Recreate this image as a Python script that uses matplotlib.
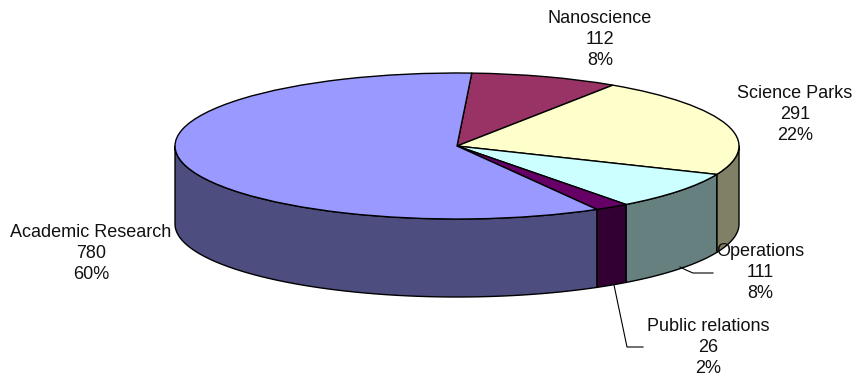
#!/usr/bin/env python
# -*- coding: utf-8 -*-

import numpy as np
import matplotlib
matplotlib.use("Agg")
import matplotlib.pyplot as plt

plt.rcParams['font.family'] = ['Liberation Sans', 'DejaVu Sans']

W, H = 855, 381

names = ['Nanoscience', 'Science Parks', 'Operations', 'Public relations', 'Academic Research']
values = [112, 291, 111, 26, 780]
percents = [8, 22, 8, 2, 60]
top_colors = ['#993366', '#FFFFCC', '#CCFFFF', '#660066', '#9999FF']
wall_colors = ['#4D1A33', '#808066', '#668080', '#330033', '#4D4D80']

# pie centre and radii in pixels, wall height too
CX, CY, RX, RY = 457, 146, 282, 73
DEPTH = 78 / RY
START = 87

#Pixel position to data position
def px(x, y):
	return (x - CX) / RX, (CY - y) / RY

#Side wall for one slice, only the part facing the viewer
def draw_wall(ax, a0, a1, color):
	lo, hi = max(a0, 180), min(a1, 360)
	if lo >= hi:
		return
	t = np.radians(np.linspace(lo, hi, 80))
	x = np.cos(t)
	y = np.sin(t)
	ax.fill(np.r_[x, x[::-1]], np.r_[y, y[::-1] - DEPTH], facecolor=color,
		edgecolor='black', linewidth=1.0, joinstyle='round', zorder=1)


fig = plt.figure(figsize=(W / 100, H / 100), dpi=100)
ax = fig.add_axes([0, 0, 1, 1])

ax.pie(values, colors=top_colors, startangle=START, counterclock=False,
	wedgeprops={'edgecolor': 'black', 'linewidth': 1.0, 'zorder': 2})
ax.set_aspect('auto')
ax.set_xlim(px(0, 0)[0], px(W, 0)[0])
ax.set_ylim(px(0, H)[1], px(0, 0)[1])

# walls, walking clockwise from the start angle
ends = START - np.cumsum(values) / np.sum(values) * 360
starts = np.r_[START, ends[:-1]]
for a_start, a_end, color in zip(starts, ends, wall_colors):
	# same slice may sit in the front half after a full turn
	draw_wall(ax, a_end, a_start, color)
	draw_wall(ax, a_end + 360, a_start + 360, color)

#Leader lines for the two labels that sit away from their slices
leaders = [[(680, 267), (686, 270), (693, 273), (713, 273)],
	[(614, 285), (627, 347), (643, 347)]]
for pts in leaders:
	xy = np.array([px(*p) for p in pts])
	ax.plot(xy[:, 0], xy[:, 1], color='black', linewidth=0.8, zorder=3)

label_pos = [(600, 39.5), (795, 114.5), (760, 272.5), (708, 347.5), (91, 253.5)]
for name, v, p, pos in zip(names, values, percents, label_pos):
	x, y = px(*pos)
	ax.text(x, y, f'{name}\n{v}\n{p}%', ha='center', va='center', fontsize=13,
		linespacing=1.34, color='#111111', zorder=4)

fig.savefig('out.png', dpi=100)
